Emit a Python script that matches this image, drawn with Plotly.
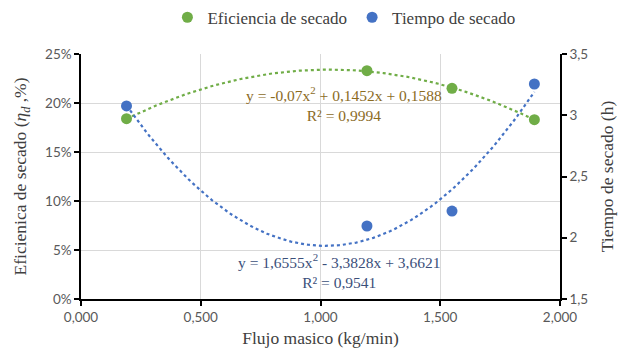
import numpy as np
import plotly.graph_objects as go

# Data
flujo = [0.19, 1.194, 1.549, 1.893]
eficiencia = [0.184, 0.233, 0.215, 0.183]
tiempo = [3.076, 2.096, 2.218, 3.255]
coef_ef = [-0.07, 0.1452, 0.1588]
coef_t = [1.6555, -3.3828, 3.6621]
eq_ef = "y = -0,07x<sup>2</sup> + 0,1452x + 0,1588<br>R² = 0,9994"
eq_t = "y = 1,6555x<sup>2</sup> - 3,3828x + 3,6621<br>R² = 0,9541"

green = "#70AD47"
blue = "#4472C4"

xs = np.linspace(min(flujo), max(flujo), 120)
fit_ef = np.polyval(coef_ef, xs)
fit_t = np.polyval(coef_t, xs)

fig = go.Figure()
fig.add_trace(go.Scatter(x=xs, y=fit_ef, mode="lines", line=dict(color=green, width=2.2, dash="dot"),
                         showlegend=False, hoverinfo="skip"))
fig.add_trace(go.Scatter(x=xs, y=fit_t, mode="lines", yaxis="y2", line=dict(color=blue, width=2.2, dash="dot"),
                         showlegend=False, hoverinfo="skip"))
fig.add_trace(go.Scatter(x=flujo, y=eficiencia, mode="markers", name="Eficiencia de secado",
                         marker=dict(color=green, size=11)))
fig.add_trace(go.Scatter(x=flujo, y=tiempo, mode="markers", name="Tiempo de secado", yaxis="y2",
                         marker=dict(color=blue, size=11)))

serif = "Liberation Serif"
tickfont = dict(family="Lato", size=13.5, color="#595959")
titlefont = dict(family=serif, size=17.5, color="#404040")

fig.update_layout(
    width=631, height=354,
    margin=dict(l=81, r=71, t=54, b=55),
    paper_bgcolor="white", plot_bgcolor="white",
    separators=",.",
    xaxis=dict(range=[0, 2], tickvals=[0, 0.5, 1.0, 1.5, 2.0], tickformat=".3f",
               showgrid=True, gridcolor="#d9d9d9", gridwidth=1.3,
               showline=True, linecolor="black", linewidth=1.5,
               ticks="outside", ticklen=5, tickcolor="black", tickwidth=1.5,
               tickfont=tickfont, zeroline=False, automargin=False,
               title=dict(text="Flujo masico (kg/min)", font=titlefont, standoff=8)),
    yaxis=dict(range=[0, 0.25], tickvals=[0, 0.05, 0.10, 0.15, 0.20, 0.25], tickformat=".0%",
               showgrid=True, gridcolor="#d9d9d9", gridwidth=1.3,
               showline=True, linecolor="black", linewidth=1.5,
               ticks="outside", ticklen=5, tickcolor="black", tickwidth=1.5,
               tickfont=tickfont, zeroline=False, automargin=False,
               title=dict(text="Eficienica de secado (<i>η<sub>d</sub></i> ,%)", font=titlefont, standoff=14)),
    yaxis2=dict(range=[1.5, 3.5], tickvals=[1.5, 2, 2.5, 3, 3.5], overlaying="y", side="right",
                showgrid=False, showline=True, linecolor="black", linewidth=1.5,
                ticks="outside", ticklen=5, tickcolor="black", tickwidth=1.5,
                tickfont=tickfont, zeroline=False, automargin=False,
                title=dict(text="Tiempo de secado (h)", font=titlefont, standoff=14)),
    legend=dict(orientation="h", xref="container", yref="container", x=0.545, y=0.95,
                xanchor="center", yanchor="middle",
                font=dict(family=serif, size=17, color="#404040"),
                itemwidth=30, tracegroupgap=0),
    annotations=[
        dict(x=1.098, y=0.796, xref="x", yref="paper", text=eq_ef, showarrow=False,
             xanchor="center", yanchor="middle",
             font=dict(family=serif, size=15.5, color="#8B6B1F"),
             align="center"),
        dict(x=1.078, y=0.114, xref="x", yref="paper", text=eq_t, showarrow=False,
             xanchor="center", yanchor="middle",
             font=dict(family=serif, size=15.5, color="#3B4F7A"),
             align="center"),
    ],
)

fig.write_html("out.html", config={"displayModeBar": False},
               post_script="document.body.style.margin='0px';")
